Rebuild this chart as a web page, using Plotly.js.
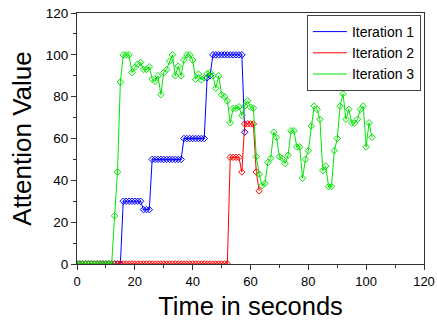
<!DOCTYPE html>
<html>
<head>
<meta charset="utf-8">
<script src="https://cdn.plot.ly/plotly-3.0.1.min.js"></script>
<style>html,body{margin:0;padding:0;background:#fff;}#chart{width:437px;height:324px;}</style>
</head>
<body>
<div id="chart"></div>
<script>
// Time in seconds (shared x values)
var seconds = [0,1,2,3,4,5,6,7,8,9,10,11,12,13,14,15,16,17,18,19,20,21,22,23,24,25,26,27,28,29,30,31,32,33,34,35,36,37,38,39,40,41,42,43,44,45,46,47,48,49,50,51,52,53,54,55,56,57,58,59,60,61,62,63,64,65,66,67,68,69,70,71,72,73,74,75,76,77,78,79,80,81,82,83,84,85,86,87,88,89,90,91,92,93,94,95,96,97,98,99,100,101,102];

// Iteration 1 (t = 0..58)
var iteration1 = [0,0,0,0,0,0,0,0,0,0,0,0,0,0,0,0,
  30,30,30,30,30,30,30,
  26,26,26,
  50,50,50,50,50,50,50,50,50,50,50,
  60,60,60,60,60,60,60,60,
  89,90,
  100,100,100,100,100,100,100,100,100,100,100,
  63];

// Iteration 2 (t = 0..63)
var iteration2 = [0,0,0,0,0,0,0,0,0,0,0,0,0,0,0,0,0,0,0,0,0,0,0,0,0,0,0,0,0,0,0,0,0,0,0,0,0,0,0,0,0,0,0,0,0,0,0,0,0,0,0,0,0,
  51,51,51,51,
  44,
  67,67,67,67,
  44,35];

// Iteration 3 (t = 0..102)
var iteration3 = [0,0,0,0,0,0,0,0,0,0,0,0,0,
  23,44,87,100,100,100,91.5,94,95.6,96.4,93,93,94.3,88.4,87.3,90,81,91.5,93,97,100,90,94.6,90,
  97.5,100,100,97.5,88.3,90.8,88,89,91,91.5,90,84,90,81,80,78,67.5,74.4,74.4,75.2,71,75.5,78,75,74.5,
  51.3,43,37.5,38.5,48.5,50.5,63,60.5,51.3,50.5,48,52,63.7,63.7,56,56,41,50,54.2,66,75.5,73.9,69.2,
  44.6,46.8,37,37,54.2,60,75.5,81.3,69.2,73.9,67.5,67.3,69.2,73.9,75.5,56,67.5,60.6];

var seriesNames = ['Iteration 1','Iteration 2','Iteration 3'];
var seriesValues = [iteration1, iteration2, iteration3];
var seriesColors = ['rgb(0,0,255)','rgb(255,0,0)','rgb(0,230,0)'];

var xTicks = [0,20,40,60,80,100,120];
var yTicks = [0,20,40,60,80,100,120];

var traces = [];
for (var i = 0; i < seriesValues.length; i++) {
  traces.push({
    x: seconds, y: seriesValues[i], type: 'scatter', mode: 'lines',
    name: seriesNames[i],
    line: {color: seriesColors[i], width: 1}
  });
  traces.push({
    x: seconds, y: seriesValues[i], type: 'scatter', mode: 'markers',
    name: seriesNames[i], showlegend: false,
    marker: {symbol: 'diamond-open', size: 5, color: seriesColors[i], line: {width: 1, color: seriesColors[i]}}
  });
}

var fontFam = 'Arial, "Liberation Sans", sans-serif';
var layout = {
  width: 437, height: 324,
  margin: {l: 77, r: 13, t: 13, b: 60},
  paper_bgcolor: '#fff', plot_bgcolor: '#fff',
  font: {family: fontFam, color: '#000', size: 13},
  showlegend: true,
  legend: {
    x: 0.991, y: 0.992, xanchor: 'right', yanchor: 'top',
    bgcolor: '#fff', bordercolor: '#444', borderwidth: 1,
    font: {family: fontFam, size: 14, color: '#000'},
    itemwidth: 34
  },
  xaxis: {
    range: [0, 120], tickvals: xTicks, ticktext: xTicks.map(String),
    ticks: 'outside', ticklen: 5, tickcolor: '#333', tickwidth: 1,
    minor: {tickvals: [10,30,50,70,90,110], ticks: 'outside', ticklen: 3, tickcolor: '#333', showgrid: false},
    showline: true, linecolor: '#333', linewidth: 1, mirror: true,
    showgrid: false, zeroline: false,
    tickfont: {family: fontFam, size: 13, color: '#000'},
    title: {text: 'Time in seconds', font: {family: fontFam, size: 25.5, color: '#000'}, standoff: 9}
  },
  yaxis: {
    range: [0, 120], tickvals: yTicks, ticktext: yTicks.map(String),
    ticks: 'outside', ticklen: 5, tickcolor: '#333', tickwidth: 1,
    minor: {tickvals: [10,30,50,70,90,110], ticks: 'outside', ticklen: 3, tickcolor: '#333', showgrid: false},
    showline: true, linecolor: '#333', linewidth: 1, mirror: true,
    showgrid: false, zeroline: false,
    tickfont: {family: fontFam, size: 13.5, color: '#000'},
    title: {text: 'Attention Value', font: {family: fontFam, size: 26, color: '#000'}, standoff: 6}
  }
};

Plotly.newPlot('chart', traces, layout, {displayModeBar: false, staticPlot: true});
</script>
</body>
</html>
